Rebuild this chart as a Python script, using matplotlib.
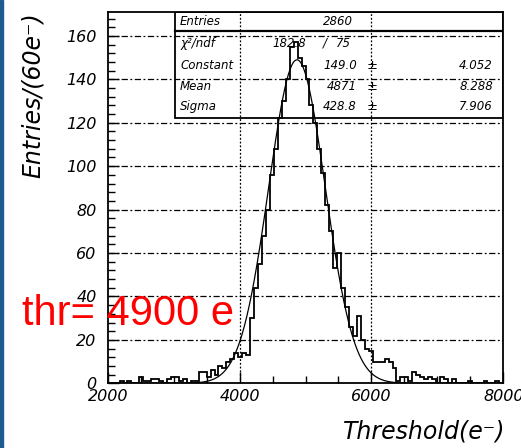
import numpy as np
import matplotlib
matplotlib.use("Agg")
import matplotlib.pyplot as plt
from matplotlib.patches import Rectangle
from matplotlib.ticker import MultipleLocator

# ---- data ----
bin_start = 2000
bin_stop = 8000
bin_width = 60
counts = [
    0, 0, 0, 1, 0, 1, 0, 0, 3, 1,
    1, 2, 2, 1, 0, 2, 3, 3, 1, 2,
    0, 1, 1, 5, 5, 3, 6, 4, 8, 7,
    10, 11, 14, 12, 14, 13, 30, 44, 55, 68,
    80, 96, 108, 122, 130, 140, 155, 157, 150, 146,
    140, 128, 120, 108, 97, 82, 70, 53, 60, 44,
    35, 26, 22, 31, 20, 16, 15, 10, 10, 10,
    11, 10, 7, 1, 3, 3, 1, 5, 4, 3,
    2, 3, 2, 0, 3, 2, 0, 2, 0, 0,
    0, 1, 0, 0, 0, 1, 0, 0, 1, 0,
]
fit_constant = 149.0
fit_mean = 4871
fit_sigma = 428.8

stat_labels = ["Entries", "\u03c7\u00b2/ndf", "Constant", "Mean", "Sigma"]
stat_values = ["2860", "182.8", "149.0", "4871", "428.8"]
stat_errors = ["", "75", "4.052", "8.288", "7.906"]

y_ticks = [0, 20, 40, 60, 80, 100, 120, 140, 160]
x_ticks = [2000, 4000, 6000, 8000]

# ---- figure ----
fig = plt.figure(figsize=(5.21, 4.48), dpi=100)
fig.patch.set_facecolor("white")
ax = fig.add_axes([107.7 / 521, 1 - 383.3 / 448, 395.6 / 521, 371.3 / 448])

edges = np.arange(bin_start, bin_stop + bin_width, bin_width)
ax.stairs(counts, edges, color="black", linewidth=1.3, baseline=None, zorder=4)

xs = np.linspace(bin_start, bin_stop, 800)
ax.plot(xs, fit_constant * np.exp(-0.5 * ((xs - fit_mean) / fit_sigma) ** 2),
        color="black", linewidth=0.9, zorder=3)

ax.set_xlim(bin_start, bin_stop)
ax.set_ylim(0, 171)
ax.set_xticks(x_ticks)
ax.set_yticks(y_ticks)
ax.xaxis.set_minor_locator(MultipleLocator(500))
ax.yaxis.set_minor_locator(MultipleLocator(4))
ax.tick_params(which="major", direction="in", length=8, width=1.0,
               labelsize=11.5, colors="black")
ax.tick_params(which="minor", direction="in", length=5, width=1.0)
ax.tick_params(axis="y", which="major", pad=8)
ax.tick_params(axis="x", which="major", pad=4)
for lab in ax.get_xticklabels() + ax.get_yticklabels():
    lab.set_fontstyle("italic")
for sp in ax.spines.values():
    sp.set_linewidth(1.3)
    sp.set_color("black")

# grid
for yv in y_ticks[1:]:
    ax.axhline(yv, color="black", linewidth=0.9, linestyle=(0, (5, 2, 1.5, 2)), zorder=1)
for xv in x_ticks[1:-1]:
    ax.axvline(xv, color="black", linewidth=0.9, linestyle=(0, (1.5, 1.5)), zorder=1)

# axis labels
ax.set_ylabel("Entries/(60e\u207b)", fontsize=17, fontstyle="italic", va="center", ha="center")
ax.yaxis.set_label_coords(-0.189, 0.776)
ax.set_xlabel("Threshold(e\u207b)", fontsize=17, fontstyle="italic", ha="right", va="center")
ax.xaxis.set_label_coords(1.005, -0.131)

# stats box
bx0 = 0.170
ax.add_patch(Rectangle((bx0, 0.7146), 1 - bx0, 1 - 0.7146, transform=ax.transAxes,
                       fill=False, edgecolor="black", linewidth=1.3, zorder=5))
ax.plot([bx0, 1], [0.948, 0.948], transform=ax.transAxes, color="black",
        linewidth=1.6, zorder=5)
rows_y = [0.975, 0.9165, 0.8546, 0.8007, 0.7468]
fs = 8.5
for i, (lab, val, err) in enumerate(zip(stat_labels, stat_values, stat_errors)):
    y = rows_y[i]
    ax.text(0.183, y, lab, transform=ax.transAxes, fontsize=fs, fontstyle="italic",
            ha="left", va="center", zorder=6)
    if i == 0:
        ax.text(0.582, y, val, transform=ax.transAxes, fontsize=fs, fontstyle="italic",
                ha="center", va="center", zorder=6)
    elif i == 1:
        ax.text(0.458, y, val, transform=ax.transAxes, fontsize=fs, fontstyle="italic",
                ha="center", va="center", zorder=6)
        ax.text(0.549, y, "/", transform=ax.transAxes, fontsize=fs, fontstyle="italic",
                ha="center", va="center", zorder=6)
        ax.text(0.595, y, err, transform=ax.transAxes, fontsize=fs, fontstyle="italic",
                ha="center", va="center", zorder=6)
    else:
        ax.text(0.63, y, val, transform=ax.transAxes, fontsize=fs, fontstyle="italic",
                ha="right", va="center", zorder=6)
        ax.text(0.668, y, "\u00b1", transform=ax.transAxes, fontsize=fs + 1,
                ha="center", va="center", zorder=6)
        ax.text(0.974, y, err, transform=ax.transAxes, fontsize=fs, fontstyle="italic",
                ha="right", va="center", zorder=6)

# red annotation
fig.text(22 / 521, 1 - 325 / 448, "thr= 4900 e", color="#ff0000", fontsize=30,
         family=["Liberation Sans", "DejaVu Sans"],
         ha="left", va="baseline", zorder=10)

# blue left border
fig.add_artist(Rectangle((0, 0), 2.5 / 521, 1, transform=fig.transFigure,
                         color="#1f5b93", zorder=0))

fig.savefig("out.png", dpi=100)
